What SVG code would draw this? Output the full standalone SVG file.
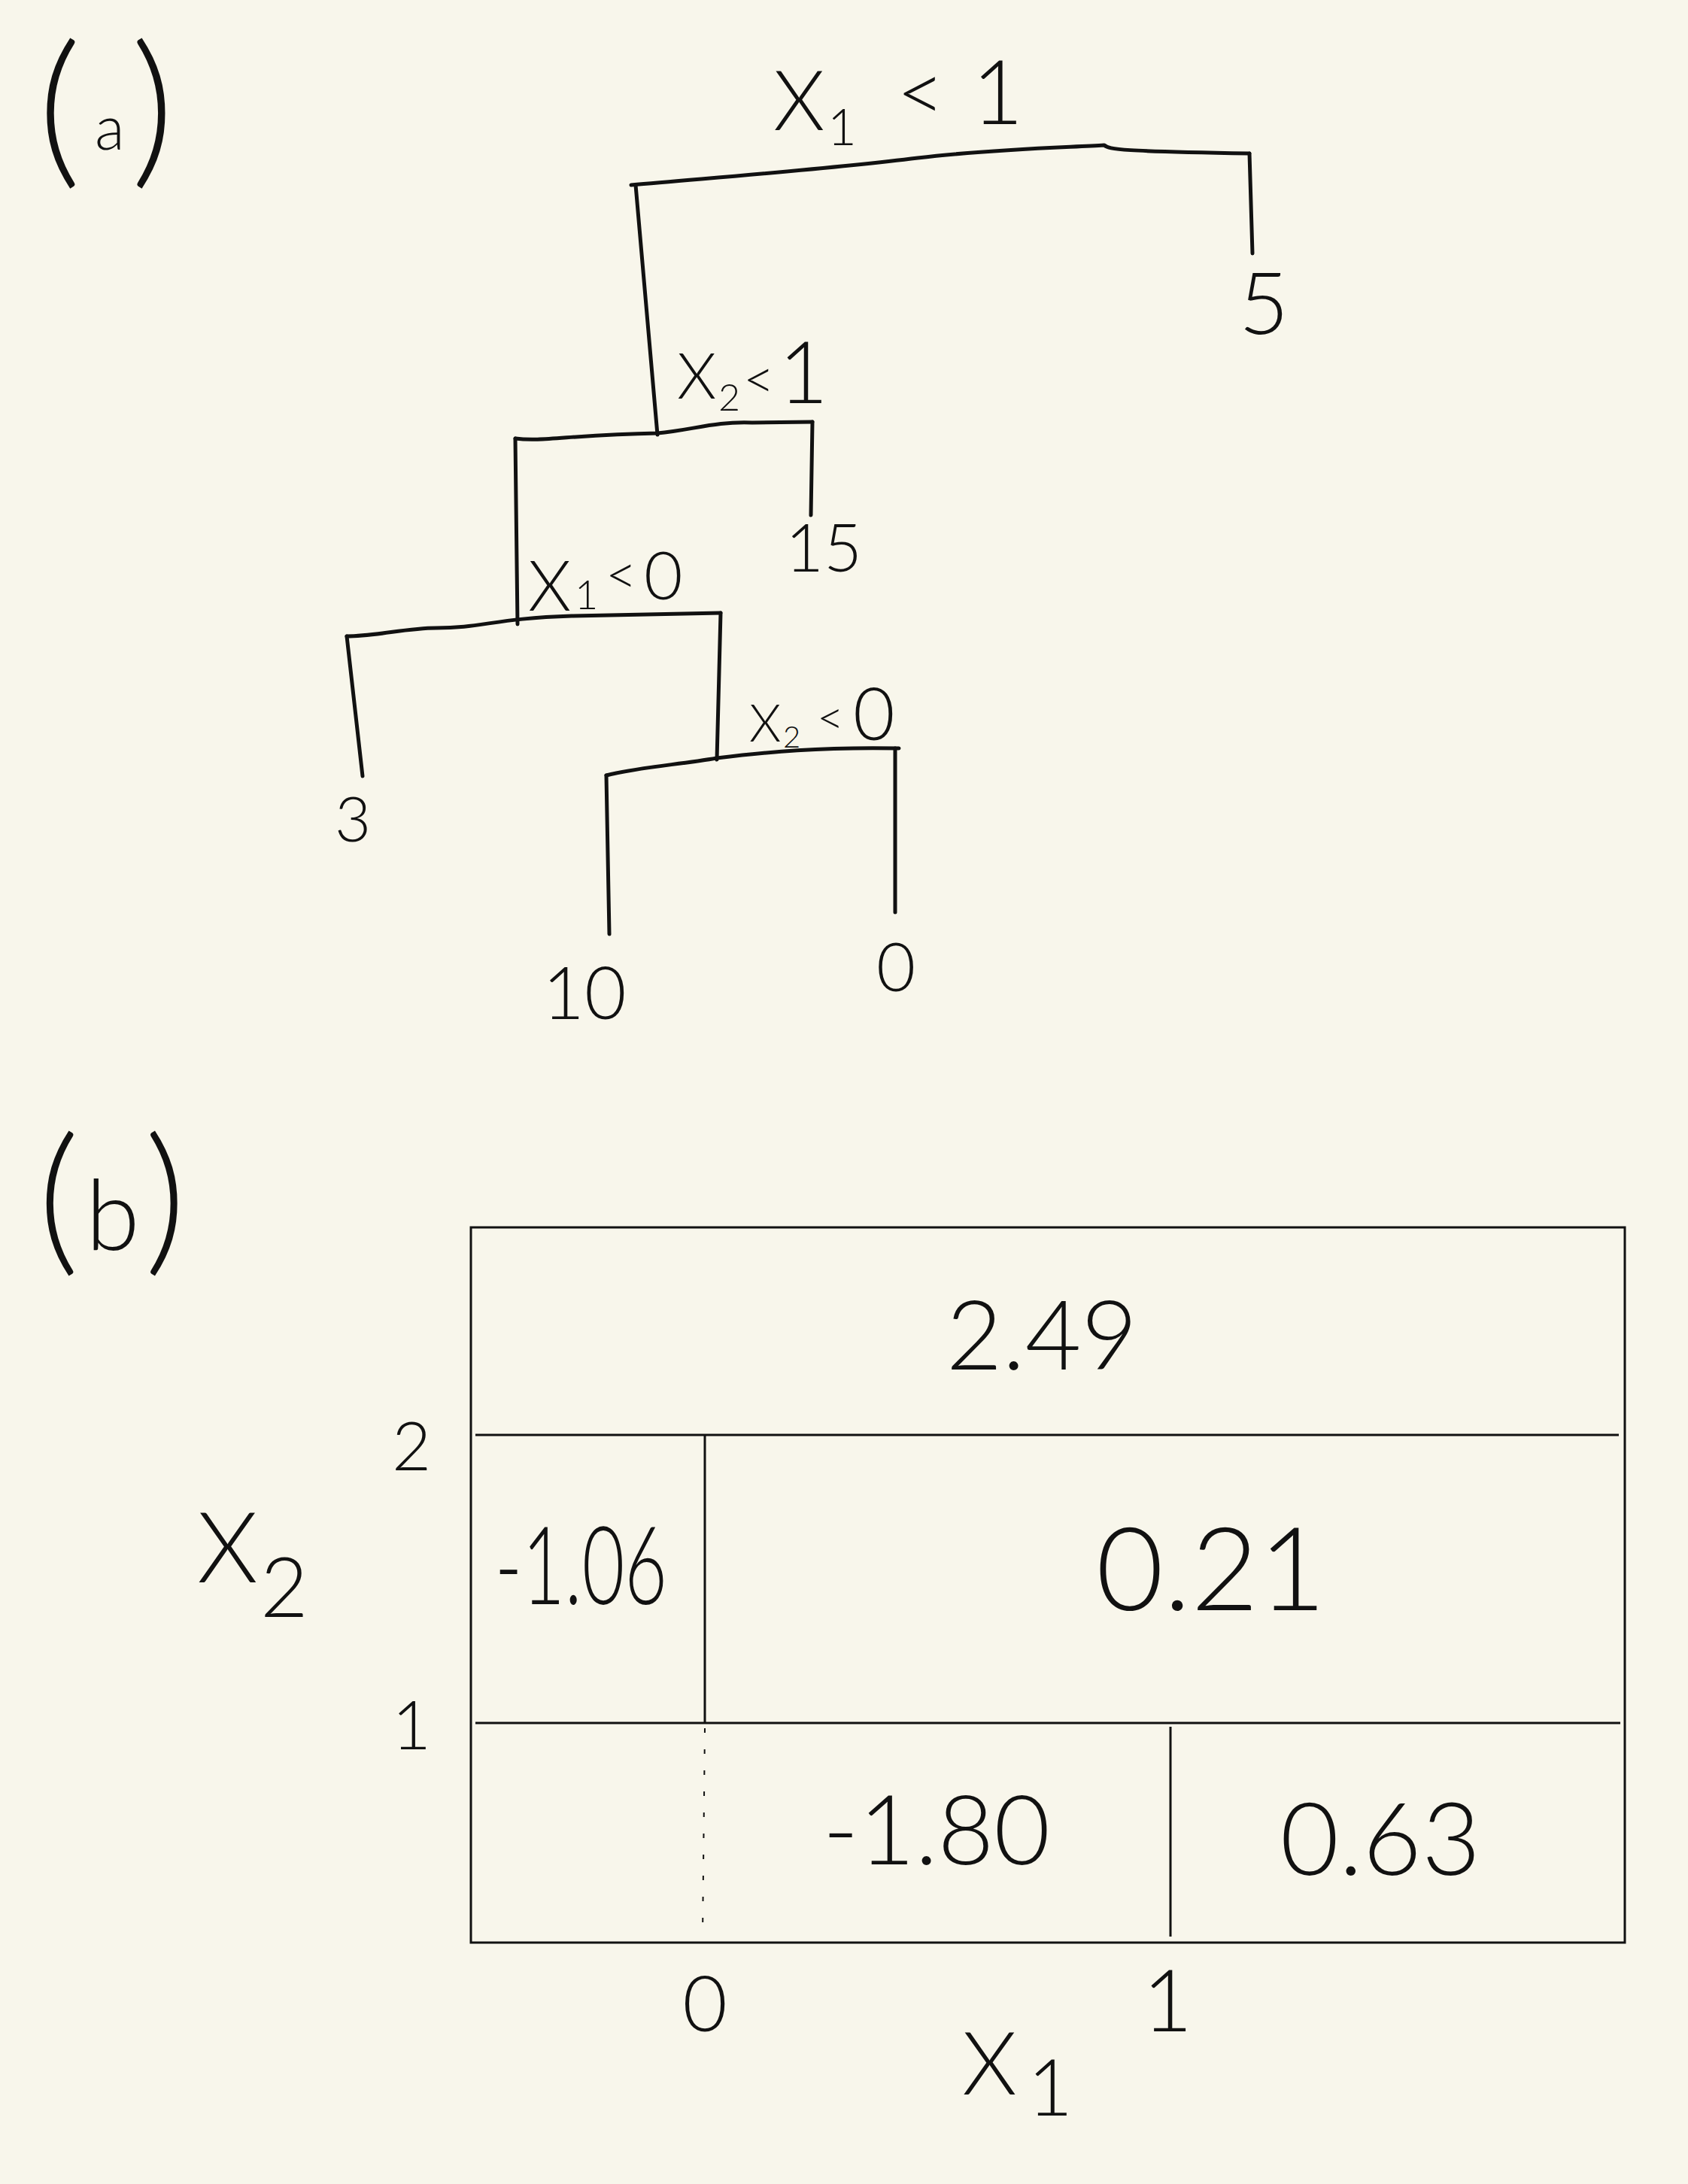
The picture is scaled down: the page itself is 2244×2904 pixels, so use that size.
<svg xmlns="http://www.w3.org/2000/svg" width="2244" height="2904" viewBox="0 0 2244 2904">
<style>
.bg{fill:#F8F6EB}
.t{font-family:Lato,"Open Sans","Liberation Sans",sans-serif;font-weight:300;fill:#111}
.m{text-anchor:middle}
.ln{fill:none;stroke:#111;stroke-width:5;stroke-linecap:round;stroke-linejoin:round}
.bx{fill:none;stroke:#111;stroke-width:3}
.dot{fill:none;stroke:#111;stroke-width:2;stroke-dasharray:6 22}
</style>
<rect class="bg" x="0" y="0" width="2244" height="2904"/>

<g id="panel-a-label"><text class="t"><tspan x="50" y="221" font-size="224">(</tspan><tspan x="126" y="199" font-size="82">a</tspan><tspan x="174" y="221" font-size="224">)</tspan></text></g>

<g id="connectors">
<path class="ln" d="M839,246 C950,236 1100,225 1220,210 C1320,198 1420,196 1468,193 C1475,199 1490,201 1661,204"/>
<path class="ln" d="M1661,204 L1665,337"/>
<path class="ln" d="M845,246 L874,578"/>
<path class="ln" d="M685,583 C720,588 760,578 874,576 C920,572 950,560 1000,562 L1080,561"/>
<path class="ln" d="M1080,561 L1078,685"/>
<path class="ln" d="M685,583 L688,830"/>
<path class="ln" d="M461,846 C500,846 540,835 580,835 C640,835 660,822 760,819 L958,815"/>
<path class="ln" d="M461,846 L482,1032"/>
<path class="ln" d="M958,815 L953,1010"/>
<path class="ln" d="M806,1031 C850,1020 900,1017 953,1008 C1020,1000 1090,993 1195,995"/>
<path class="ln" d="M806,1031 L810,1242"/>
<path class="ln" d="M1190,995 L1190,1213"/>
</g>

<g id="node-root"><text class="t"><tspan x="1028" y="173" font-size="110">X</tspan><tspan x="1100" y="193" font-size="67">1</tspan><tspan x="1192" y="162" font-size="110">&lt;</tspan><tspan x="1292" y="165" font-size="118">1</tspan></text></g>
<g id="node-x2-lt-1"><text class="t"><tspan x="900" y="530" font-size="84">X</tspan><tspan x="955" y="546" font-size="50">2</tspan><tspan x="988" y="530" font-size="72">&lt;</tspan><tspan x="1035" y="536" font-size="114">1</tspan></text></g>
<g id="node-x1-lt-0"><text class="t"><tspan x="702" y="812" font-size="92">X</tspan><tspan x="764" y="810" font-size="54">1</tspan><tspan x="805" y="790" font-size="72">&lt;</tspan><tspan x="856" y="797" font-size="89">0</tspan></text></g>
<g id="node-x2-lt-0"><text class="t"><tspan x="996" y="986" font-size="68">X</tspan><tspan x="1041" y="994" font-size="40">2</tspan><tspan x="1086" y="976" font-size="62">&lt;</tspan><tspan x="1134" y="984" font-size="96">0</tspan></text></g>

<g id="leaf-5"><text class="t m" x="1680" y="444" font-size="115">5</text></g>
<g id="leaf-15"><text class="t m" x="1095" y="760" font-size="88">15</text></g>
<g id="leaf-3"><text class="t m" x="469" y="1119" font-size="83">3</text></g>
<g id="leaf-10"><text class="t m" x="777" y="1355" font-size="96">10</text></g>
<g id="leaf-0"><text class="t m" x="1191" y="1318" font-size="90">0</text></g>

<g id="panel-b-label"><text class="t"><tspan x="50" y="1668" font-size="215">(</tspan><tspan x="114" y="1662" font-size="130">b</tspan><tspan x="192" y="1668" font-size="215">)</tspan></text></g>

<g id="partition">
<rect class="bx" x="626" y="1632" width="1534" height="951"/>
<path class="bx" d="M632,1908 L2152,1908"/>
<path class="bx" d="M632,2291 L2154,2291"/>
<path class="bx" d="M937,1908 L937,2291"/>
<path class="dot" d="M937,2298 L934,2576"/>
<path class="bx" d="M1556,2296 L1556,2575"/>
</g>

<g id="region-values">
<text class="t m" x="1385" y="1821" font-size="129">2.49</text>
<text class="t" x="658" y="2133" font-size="145" textLength="229" lengthAdjust="spacingAndGlyphs">-1.06</text>
<text class="t m" x="1610" y="2141" font-size="155">0.21</text>
<text class="t m" x="1245" y="2479" font-size="129">-1.80</text>
<text class="t m" x="1835" y="2493" font-size="135">0.63</text>
</g>

<g id="axes">
<text class="t m" x="547" y="1955" font-size="90">2</text>
<text class="t m" x="547" y="2326" font-size="90">1</text>
<text class="t"><tspan x="262" y="2104" font-size="130">X</tspan><tspan x="346" y="2150" font-size="110">2</tspan></text>
<text class="t m" x="937" y="2701" font-size="103">0</text>
<text class="t m" x="1552" y="2701" font-size="115">1</text>
<text class="t"><tspan x="1279" y="2785" font-size="117">X</tspan><tspan x="1366" y="2813" font-size="104">1</tspan></text>
</g>
</svg>
